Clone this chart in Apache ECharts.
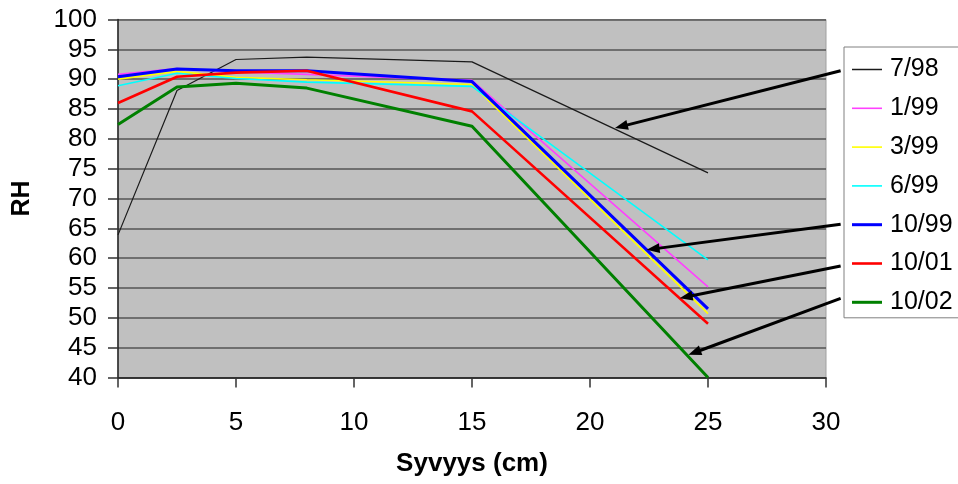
<!DOCTYPE html>
<html>
<head>
<meta charset="utf-8">
<script src="https://cdn.jsdelivr.net/npm/echarts@6/dist/echarts.min.js"></script>
<style>
  html, body { margin: 0; padding: 0; background: #fff; }
  #chart { width: 958px; height: 484px; }
</style>
</head>
<body>
<div id="chart"></div>
<script>
// Depth below surface (cm) and relative humidity per measurement date
const depth = [0, 2.5, 5, 8, 15, 25];
const dates = ['7/98', '1/99', '3/99', '6/99', '10/99', '10/01', '10/02'];
const rh7_98  = [63.9, 88.1, 93.3, 93.7, 92.9, 74.3];
const rh1_99  = [90.8, 91.8, 91.2, 90.8, 89.8, 55.2];
const rh3_99  = [90.0, 91.3, 90.3, 89.9, 89.1, 50.7];
const rh6_99  = [88.9, 91.0, 90.1, 89.5, 88.8, 59.7];
const rh10_99 = [90.4, 91.7, 91.4, 91.4, 89.6, 51.5];
const rh10_01 = [86.0, 90.4, 91.1, 91.4, 84.6, 49.0];
const rh10_02 = [82.4, 88.7, 89.3, 88.5, 82.1, 40.0];
const xTicks = [0, 5, 10, 15, 20, 25, 30];
const yTicks = [40, 45, 50, 55, 60, 65, 70, 75, 80, 85, 90, 95, 100];

// Arrows pointing from legend entries to their curves, in axis units
const arrows = [
  { from: [30.62, 91.42], to: [21.06, 81.8] },
  { from: [30.62, 65.67], to: [22.4, 61.4] },
  { from: [30.62, 58.69], to: [23.8, 53.3] },
  { from: [30.62, 53.27], to: [24.17, 43.8] }
];

const seriesValues = [rh7_98, rh1_99, rh3_99, rh6_99, rh10_99, rh10_01, rh10_02];
const colors = ['#1a1a1a', '#ff40ff', '#ffff00', '#00ffff', '#0000ff', '#ff0000', '#008000'];
const widths = [1.2, 1.6, 1.6, 1.6, 3, 2.6, 3];

const FONT = "'Liberation Sans', Arial, sans-serif";

// Legend swatch: a flat bar 30px long, as thick as the series line
function swatch(w) {
  return 'path://M0,0H30V' + w.toFixed(1) + 'H0Z';
}

const chart = echarts.init(document.getElementById('chart'), null, { renderer: 'canvas' });

chart.setOption({
  animation: false,
  backgroundColor: '#ffffff',
  grid: {
    left: 118, right: 132, top: 19.5, bottom: 106.5,
    show: true, backgroundColor: '#c0c0c0', borderColor: '#a0a0a0', borderWidth: 1
  },
  legend: {
    orient: 'vertical',
    left: 844, top: 47,
    padding: [10, 16, 3, 8],
    itemWidth: 30, itemHeight: 14, itemGap: 13.8,
    symbolKeepAspect: true,
    backgroundColor: '#ffffff',
    borderColor: '#808080', borderWidth: 1, borderRadius: 0,
    textStyle: { fontFamily: FONT, fontSize: 25, color: '#000', padding: [0, 0, 0, 3] },
    data: dates.map((d, i) => ({ name: d, icon: swatch(Math.max(widths[i], 1.5)) }))
  },
  xAxis: {
    type: 'value', min: 0, max: 30, interval: 5,
    name: 'Syvyys (cm)', nameLocation: 'middle', nameGap: 73,
    nameTextStyle: { fontFamily: FONT, fontSize: 26, fontWeight: 'bold', color: '#000' },
    axisLine: { show: true, onZero: false, lineStyle: { color: '#222', width: 1.5 } },
    axisTick: { show: true, inside: false, length: 10, lineStyle: { color: '#333', width: 1.5 } },
    axisLabel: { margin: 32, fontFamily: FONT, fontSize: 26, color: '#000',
      formatter: v => xTicks.includes(v) ? String(v) : '' },
    splitLine: { show: false }
  },
  yAxis: {
    type: 'value', min: 40, max: 100, interval: 5,
    name: 'RH', nameLocation: 'middle', nameGap: 83, nameRotate: 90,
    nameTextStyle: { fontFamily: FONT, fontSize: 25, fontWeight: 'bold', color: '#000' },
    axisLine: { show: true, onZero: false, lineStyle: { color: '#222', width: 1.5 } },
    axisTick: { show: true, inside: false, length: 10, lineStyle: { color: '#333', width: 1.5 } },
    axisLabel: { margin: 21, fontFamily: FONT, fontSize: 26, color: '#000',
      formatter: v => yTicks.includes(v) ? String(v) : '' },
    splitLine: { show: true, lineStyle: { color: '#555', width: 1.5 } }
  },
  series: dates.map((name, i) => ({
    name: name,
    type: 'line',
    data: depth.map((d, j) => [d, seriesValues[i][j]]),
    showSymbol: false,
    symbol: 'none',
    color: colors[i],
    lineStyle: { color: colors[i], width: widths[i] },
    z: 2 + i
  }))
});

// Draw arrows as shaft + filled head, positioned through the grid's coordinate system
function arrowGraphics() {
  const els = [];
  arrows.forEach(a => {
    const p0 = chart.convertToPixel({ gridIndex: 0 }, a.from);
    const p1 = chart.convertToPixel({ gridIndex: 0 }, a.to);
    const dx = p1[0] - p0[0], dy = p1[1] - p0[1];
    const len = Math.sqrt(dx * dx + dy * dy);
    const ux = dx / len, uy = dy / len;
    const headLen = 13, headHalf = 5;
    const bx = p1[0] - ux * headLen, by = p1[1] - uy * headLen;
    els.push({
      type: 'line', z: 100, silent: true,
      shape: { x1: p0[0], y1: p0[1], x2: bx + ux * 2, y2: by + uy * 2 },
      style: { stroke: '#000', lineWidth: 3 }
    });
    els.push({
      type: 'polygon', z: 100, silent: true,
      shape: { points: [
        [p1[0], p1[1]],
        [bx - uy * headHalf, by + ux * headHalf],
        [bx + uy * headHalf, by - ux * headHalf]
      ] },
      style: { fill: '#000' }
    });
  });
  return els;
}

chart.setOption({ graphic: arrowGraphics() });
</script>
</body>
</html>
